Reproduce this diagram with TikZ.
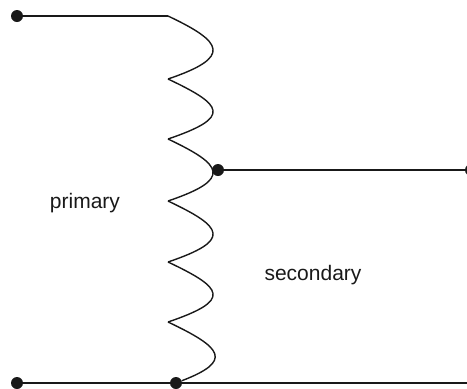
\documentclass[tikz,border=0pt]{standalone}
\usepackage{fontspec}
\setmainfont{Liberation Sans}
\tikzset{
  wire/.style={line width=1.6pt, black!90},
  coil/.style={line width=1.4pt, black!90},
  term/.style={circle, fill=black!90, minimum size=12pt, inner sep=0pt},
  lbl/.style={inner sep=0pt, font=\fontsize{21}{24}\selectfont, text=black!90}
}
\begin{document}
\begin{tikzpicture}[x=1pt, y=-1pt]
\useasboundingbox (0,0) rectangle (467,389);

\coordinate (c0) at (168,16);
\coordinate (c1) at (168,79);
\coordinate (c2) at (168,139);
\coordinate (c3) at (168,201);
\coordinate (c4) at (168,262);
\coordinate (c5) at (168,322);

\node[term] (topleft) at (17,16) {};
\node[term] (tap) at (218,170) {};
\node[term] (tapright) at (471,170) {};
\node[term] (botleft) at (17,383) {};
\node[term] (botmid) at (176,383) {};
\coordinate (botright) at (467,383);

\foreach \a/\b/\w in {c0/c1/65, c1/c2/65, c2/c3/65, c3/c4/65, c4/c5/65, c5/botmid/57}
  \draw[coil] (\a) .. controls +(55,26) and +(\w,-22) .. (\b);

\draw[wire] (topleft) -- (c0);
\draw[wire] (tap) -- (tapright);
\draw[wire] (botleft) -- (botmid) -- (botright);

\node[lbl] (primary) at (85,203) {primary};
\node[lbl] (secondary) at (313,275) {secondary};
\end{tikzpicture}
\end{document}
